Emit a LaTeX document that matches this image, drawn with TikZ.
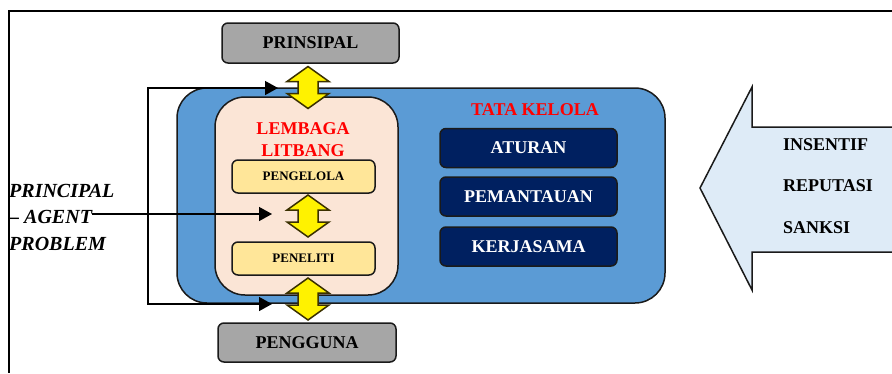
\documentclass[tikz,border=0pt]{standalone}
\usepackage{fontspec}
\setmainfont{Liberation Serif}
\usetikzlibrary{arrows.meta}
\definecolor{gbox}{HTML}{A6A6A6}
\definecolor{bluebg}{HTML}{5B9BD5}
\definecolor{peach}{HTML}{FBE5D6}
\definecolor{ybox}{HTML}{FFE699}
\definecolor{navy}{HTML}{002060}
\definecolor{lightarr}{HTML}{DEEBF7}
\definecolor{yedge}{HTML}{3A3000}
\definecolor{dark}{HTML}{1A1A1A}
\tikzset{
  big/.style={font=\bfseries\fontsize{18}{22}\selectfont},
  graybox/.style={big, draw=dark, line width=1.5pt, fill=gbox, rounded corners=6pt, inner sep=0pt},
  navybox/.style={big, draw=dark, line width=1.5pt, fill=navy, text=white, rounded corners=6pt, inner sep=0pt, minimum width=177pt, minimum height=39pt},
  yelbox/.style={font=\bfseries\fontsize{13}{15}\selectfont, draw=dark, line width=1.5pt, fill=ybox, rounded corners=6pt, inner sep=0pt, minimum width=143pt, minimum height=33pt},
  redtxt/.style={big, text=red, align=center, inner sep=0pt},
  sidetxt/.style={big, anchor=base west, inner sep=0pt},
  patxt/.style={font=\bfseries\itshape\fontsize{20}{24}\selectfont, anchor=base west, inner sep=0pt},
  arr/.style={line width=1.5pt, -{Triangle[length=13pt,width=14pt]}},
  dblarr/.pic={\draw[fill=yellow, draw=yedge, line width=1.5pt, line join=miter]
     (0,-21) -- (21,-6) -- (10,-6) -- (10,6) -- (21,6) -- (0,21) -- (-21,6) -- (-10,6) -- (-10,-6) -- (-21,-6) -- cycle;}
}
\begin{document}
\begin{tikzpicture}[x=1pt,y=-1pt]
\useasboundingbox (0,0) rectangle (892,373);
\fill[white] (0,0) rectangle (892,373);
% outer frame
\draw[line width=2pt, black] (892,11) -- (9,11) -- (9,373);
% big incoming arrow
\begin{scope}
\clip (0,0) rectangle (892,373);
\fill[lightarr] (900,127) -- (752,127) -- (752,87) -- (700,188) -- (752,290) -- (752,252) -- (900,252) -- cycle;
\draw[dark, line width=1.5pt, line join=miter] (900,127) -- (752,127) -- (752,87) -- (700,188) -- (752,290) -- (752,252) -- (900,252);
\end{scope}
\node[sidetxt] (ins) at (783,150) {INSENTIF};
\node[sidetxt] (rep) at (783,191) {REPUTASI};
\node[sidetxt] (san) at (783,233) {SANKSI};
% main boxes
\node[draw=dark, line width=1.5pt, fill=bluebg, rounded corners=30pt, minimum width=488pt, minimum height=215pt, inner sep=0pt] (tata) at (421,195.5) {};
\node[draw=dark, line width=1.5pt, fill=peach, rounded corners=30pt, minimum width=183pt, minimum height=198pt, inner sep=0pt] (lemb) at (306.5,196) {};
\node[redtxt] (lembt) at (303,140) {LEMBAGA\\LITBANG};
\node[redtxt] (tatat) at (535,110) {TATA KELOLA};
\node[navybox] (atur) at (528.5,148) {ATURAN};
\node[navybox] (pem) at (528.5,196.5) {PEMANTAUAN};
\node[navybox] (kerj) at (528.5,246.5) {KERJASAMA};
\node[yelbox] (pengelola) at (303.5,176.5) {\raisebox{-2pt}{PENGELOLA}};
\node[yelbox] (peneliti) at (303.5,258.5) {\raisebox{-2pt}{PENELITI}};
\node[graybox, minimum width=177pt, minimum height=40pt] (prin) at (310.5,43) {PRINSIPAL};
\node[graybox, minimum width=178pt, minimum height=39pt] (peng) at (307,342.5) {PENGGUNA};
% loop
\coordinate (lt) at (278,88);
\coordinate (c1) at (148,88);
\coordinate (c2) at (148,304);
\coordinate (lb) at (272,304);
\draw[line width=1.5pt, {Triangle[length=13pt,width=14pt]}-{Triangle[length=13pt,width=14pt]}] (lt) -- (c1) -- (c2) -- (lb);
% principal-agent problem
\node[patxt] (pa1) at (9,197) {PRINCIPAL};
\node[patxt] (pa2) at (9,223) {– AGENT};
\node[patxt] (pa3) at (9,250) {PROBLEM};
\coordinate (patip) at (272,214);
\draw[arr] (pa2.east |- patip) -- (patip);
% yellow double arrows
\pic at (308,87.5) {dblarr};
\pic at (308,216) {dblarr};
\pic at (308,299) {dblarr};
\end{tikzpicture}
\end{document}
